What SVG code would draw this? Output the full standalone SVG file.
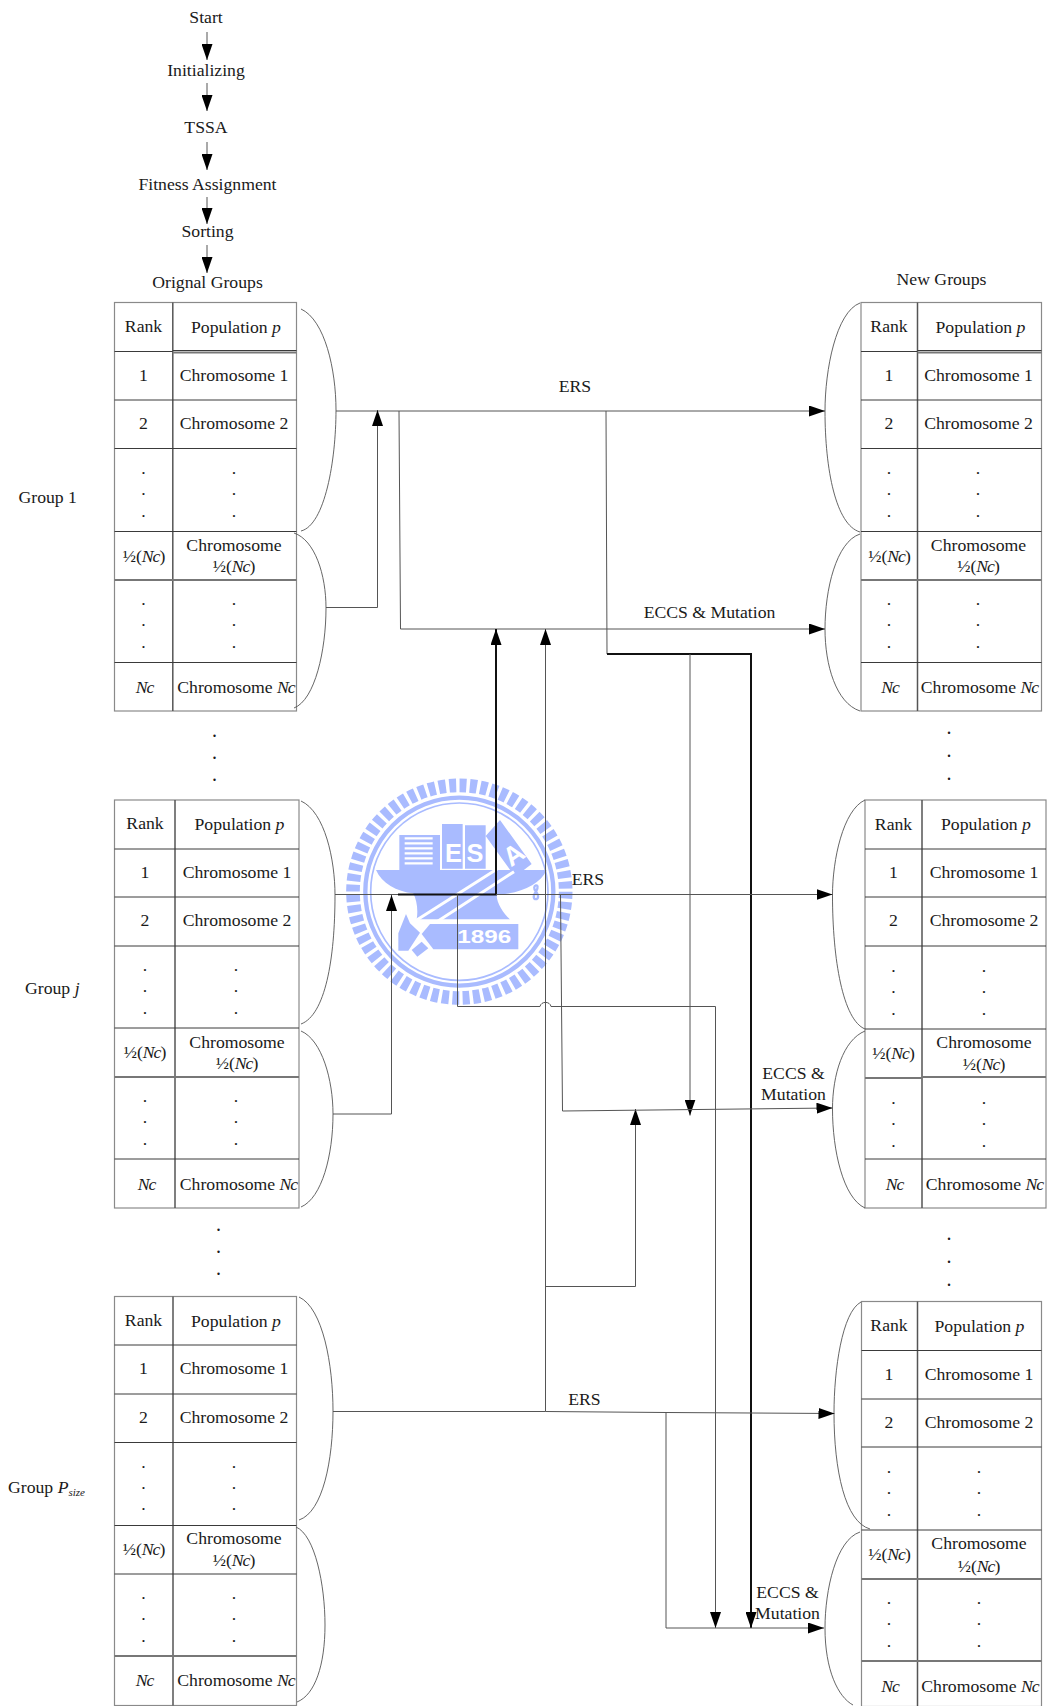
<svg xmlns="http://www.w3.org/2000/svg" width="1048" height="1706" viewBox="0 0 1048 1706">
<style>
text{font-family:"Liberation Serif","Times New Roman",serif;font-size:17.7px;fill:#1a1a1a;text-anchor:middle}
.l{text-anchor:start}
.i{font-style:italic}
.n{font-style:italic;letter-spacing:-1px}
.big{font-size:20px}
.out{fill:none;stroke:#8a8a8a;stroke-width:1.2}
.col{stroke:#555;stroke-width:1.5;fill:none}
.row{stroke:#3a3a3a;stroke-width:1;fill:none}
.dbl{stroke:#777;stroke-width:2;fill:none}
.br{fill:none;stroke:#555;stroke-width:.9}
.c{fill:none;stroke:#555;stroke-width:1}
.t{fill:none;stroke:#111;stroke-width:2}
.a{marker-end:url(#ah)}
.lb{fill:#a9bbff;stroke:none}
.ls{fill:none;stroke:#a9bbff}
.lt{font-family:"Liberation Sans",Arial,sans-serif;font-weight:bold;fill:#fff}
</style>
<defs>
<marker id="ah" viewBox="0 0 16 11" refX="16" refY="5.5" markerWidth="16" markerHeight="11" markerUnits="userSpaceOnUse" orient="auto"><path d="M0 0L16 5.5L0 11Z" fill="#000"/></marker>
</defs>
<rect width="1048" height="1706" fill="#fff"/>

<g id="logo" transform="translate(320 760) scale(.33333)">
<circle class="ls" cx="418" cy="395" r="319" stroke-width="41" stroke-dasharray="21 10.3"/>
<circle class="ls" cx="418" cy="395" r="282" stroke-width="13"/>
<circle class="ls" cx="418" cy="395" r="266" stroke-width="5"/>
<path class="lb" d="M238 225H360V330H238Z"/>
<path d="M254 235H338M254 250H338M254 265H338M254 280H338M254 295H338M254 310H338" stroke="#fff" stroke-width="7"/>
<path class="lb" d="M366 192H428V326H366ZM435 196H497V326H435ZM540 180L635 312L585 350L497 228Z"/>
<path class="lb" d="M168 330H680C660 375 600 400 530 405C530 430 550 460 570 478H360L290 478C295 450 290 420 280 400C230 395 185 370 168 330Z"/>
<path d="M275 490L555 312M300 518L582 335" stroke="#fff" stroke-width="9" fill="none"/>
<path class="lb" d="M330 492H595V568H340L305 522Z"/>
<path class="lb" d="M235 520L258 462L270 490L300 518L265 572H235ZM275 570L305 545L325 565L292 590Z"/>
<text class="lt" x="400" y="305" style="font-size:76px">E</text>
<text class="lt" x="465" y="305" style="font-size:76px">S</text>
<text class="lt" x="0" y="0" style="font-size:80px" transform="translate(597 306) rotate(-35)">A</text>
<text class="lt" x="0" y="0" style="font-size:54px" transform="translate(493 548) scale(1.35 1)">1896</text>
<path class="ls" stroke-width="7" d="M648 395C630 375 665 365 648 395C625 425 670 425 648 395Z"/>
</g>

<g id="start"><text x="206" y="23">Start</text></g>
<g id="initializing"><text x="206" y="76">Initializing</text></g>
<g id="tssa"><text x="206" y="133">TSSA</text></g>
<g id="fitness"><text x="207.500" y="190">Fitness Assignment</text></g>
<g id="sorting"><text x="207.500" y="237">Sorting</text></g>
<g id="original-label"><text x="207.500" y="288">Orignal Groups</text></g>
<g id="new-label"><text x="941.500" y="285">New Groups</text></g>
<g id="group-1"><text class="l" x="18.500" y="503">Group 1</text></g>
<g id="group-j"><text class="l" x="25" y="994">Group <tspan class="i">j</tspan></text></g>
<g id="group-p"><text class="l" x="8" y="1493">Group <tspan class="i">P</tspan><tspan class="i" dy="3" style="font-size:11px">size</tspan></text></g>

<g id="dots">
<text class="big" x="214.500" y="737">.</text><text class="big" x="214.500" y="759">.</text><text class="big" x="214.500" y="781">.</text>
<text class="big" x="218.500" y="1231">.</text><text class="big" x="218.500" y="1253">.</text><text class="big" x="218.500" y="1275">.</text>
<text class="big" x="949" y="734">.</text><text class="big" x="949" y="757">.</text><text class="big" x="949" y="780">.</text>
<text class="big" x="949" y="1240">.</text><text class="big" x="949" y="1263">.</text><text class="big" x="949" y="1286">.</text>
</g>

<g id="table-l1">
<rect class="out" x="114.500" y="302.500" width="182" height="408.500"/>
<path class="col" d="M172.800 302.500V711"/>
<path class="row" d="M114.500 351.500H172.800M172.800 350.500H296.500M114.500 400H296.500M114.500 448.500H296.500M114.500 531.500H296.500M114.500 662.500H296.500"/>
<path class="dbl" d="M114.500 580H296.500M172.800 352.500H296.500"/>
<path class="br" d="M301 309C325 320 336 370 336 410C336 460 325 525 301 531"/>
<path class="br" d="M294 533C315 540 326 575 326 608C326 650 315 700 294 708"/>
<text x="143.500" y="332">Rank</text><text x="236" y="333">Population <tspan class="i">p</tspan></text>
<text x="143.500" y="381">1</text><text x="234" y="381">Chromosome 1</text>
<text x="143.500" y="429">2</text><text x="234" y="429">Chromosome 2</text>
<text x="143.500" y="474">.</text><text x="234" y="474">.</text><text x="143.500" y="495">.</text><text x="234" y="495">.</text><text x="143.500" y="517">.</text><text x="234" y="517">.</text>
<text x="144" y="562">½(<tspan class="n">Nc</tspan>)</text><text x="234" y="551">Chromosome</text><text x="234" y="572">½(<tspan class="n">Nc</tspan>)</text>
<text x="143.500" y="605">.</text><text x="234" y="605">.</text><text x="143.500" y="626">.</text><text x="234" y="626">.</text><text x="143.500" y="648">.</text><text x="234" y="648">.</text>
<text class="n" x="144.500" y="692.500">Nc</text><text x="236" y="692.500">Chromosome <tspan class="n">Nc</tspan></text>
</g>

<g id="table-lj">
<rect class="out" x="114.500" y="800" width="184.500" height="408"/>
<path class="col" d="M175 800V1208"/>
<path class="row" d="M114.500 849H299M114.500 897H299M114.500 946H299M114.500 1028H299M114.500 1159H299"/>
<path class="dbl" d="M114.500 1077H299"/>
<path class="br" d="M301 801C325 812 335 860 335 895C335 960 325 1015 301 1024"/>
<path class="br" d="M301 1031C322 1040 333 1080 333 1114C333 1155 322 1198 301 1207"/>
<text x="145" y="829">Rank</text><text x="239.500" y="830">Population <tspan class="i">p</tspan></text>
<text x="145" y="878">1</text><text x="237" y="878">Chromosome 1</text>
<text x="145" y="926">2</text><text x="237" y="926">Chromosome 2</text>
<text x="145" y="971">.</text><text x="236" y="971">.</text><text x="145" y="992">.</text><text x="236" y="992">.</text><text x="145" y="1014">.</text><text x="236" y="1014">.</text>
<text x="145" y="1058">½(<tspan class="n">Nc</tspan>)</text><text x="237" y="1048">Chromosome</text><text x="237" y="1069">½(<tspan class="n">Nc</tspan>)</text>
<text x="145" y="1102">.</text><text x="236" y="1102">.</text><text x="145" y="1123">.</text><text x="236" y="1123">.</text><text x="145" y="1145">.</text><text x="236" y="1145">.</text>
<text class="n" x="146.500" y="1190">Nc</text><text x="238.500" y="1190">Chromosome <tspan class="n">Nc</tspan></text>
</g>

<g id="table-lp">
<rect class="out" x="114.500" y="1296.500" width="182" height="409"/>
<path class="col" d="M173 1296.500V1705.500"/>
<path class="row" d="M114.500 1345H296.500M114.500 1394H296.500M114.500 1442.500H296.500M114.500 1525.500H296.500M114.500 1574H296.500"/>
<path class="dbl" d="M114.500 1656H296.500"/>
<path class="br" d="M299 1297C323 1308 333 1365 333 1411C333 1460 323 1512 299 1520"/>
<path class="br" d="M296 1527C315 1535 325 1585 325 1625C325 1665 315 1695 297 1702"/>
<text x="143.500" y="1326">Rank</text><text x="236" y="1327">Population <tspan class="i">p</tspan></text>
<text x="143.500" y="1374">1</text><text x="234" y="1374">Chromosome 1</text>
<text x="143.500" y="1423">2</text><text x="234" y="1423">Chromosome 2</text>
<text x="143.500" y="1468">.</text><text x="234" y="1468">.</text><text x="143.500" y="1489">.</text><text x="234" y="1489">.</text><text x="143.500" y="1510">.</text><text x="234" y="1510">.</text>
<text x="144" y="1555">½(<tspan class="n">Nc</tspan>)</text><text x="234" y="1544">Chromosome</text><text x="234" y="1566">½(<tspan class="n">Nc</tspan>)</text>
<text x="143.500" y="1599">.</text><text x="234" y="1599">.</text><text x="143.500" y="1620">.</text><text x="234" y="1620">.</text><text x="143.500" y="1642">.</text><text x="234" y="1642">.</text>
<text class="n" x="144.500" y="1686">Nc</text><text x="236" y="1686">Chromosome <tspan class="n">Nc</tspan></text>
</g>

<g id="table-r1">
<rect class="out" x="861" y="302.500" width="180.500" height="408.500"/>
<path class="col" d="M917.500 302.500V711"/>
<path class="row" d="M861 351.500H917.500M917.500 350.500H1041.500M861 400H1041.500M861 448.500H1041.500M861 531.500H1041.500M861 662.500H1041.500"/>
<path class="dbl" d="M861 580H1041.500M917.500 352.500H1041.500"/>
<path class="br" d="M860 303C836 312 825 370 825 411C825 470 836 525 860 532"/>
<path class="br" d="M860 534C836 542 825 590 825 629C825 665 836 703 860 711"/>
<text x="889" y="332">Rank</text><text x="980.500" y="333">Population <tspan class="i">p</tspan></text>
<text x="889" y="381">1</text><text x="978.500" y="381">Chromosome 1</text>
<text x="889" y="429">2</text><text x="978.500" y="429">Chromosome 2</text>
<text x="889" y="474">.</text><text x="978" y="474">.</text><text x="889" y="495">.</text><text x="978" y="495">.</text><text x="889" y="517">.</text><text x="978" y="517">.</text>
<text x="889.500" y="562">½(<tspan class="n">Nc</tspan>)</text><text x="978.500" y="551">Chromosome</text><text x="978.500" y="572">½(<tspan class="n">Nc</tspan>)</text>
<text x="889" y="605">.</text><text x="978" y="605">.</text><text x="889" y="626">.</text><text x="978" y="626">.</text><text x="889" y="648">.</text><text x="978" y="648">.</text>
<text class="n" x="890" y="692.500">Nc</text><text x="979.500" y="692.500">Chromosome <tspan class="n">Nc</tspan></text>
</g>

<g id="table-rj">
<rect class="out" x="865" y="800" width="181" height="408"/>
<path class="col" d="M922 800V1208"/>
<path class="row" d="M865 849H1046M865 897H1046M865 946H1046M865 1029H1046M865 1159H1046"/>
<path class="dbl" d="M865 1078H922M922 1077H1046"/>
<path class="br" d="M865 800C843 810 832.500 860 832.500 895C832.500 960 843 1020 865 1029"/>
<path class="br" d="M865 1031C843 1040 832.500 1075 832.500 1109C832.500 1150 843 1198 865 1208"/>
<text x="893.500" y="830">Rank</text><text x="986" y="830">Population <tspan class="i">p</tspan></text>
<text x="893.500" y="878">1</text><text x="984" y="878">Chromosome 1</text>
<text x="893.500" y="926">2</text><text x="984" y="926">Chromosome 2</text>
<text x="893.500" y="972">.</text><text x="984" y="972">.</text><text x="893.500" y="993">.</text><text x="984" y="993">.</text><text x="893.500" y="1015">.</text><text x="984" y="1015">.</text>
<text x="893.500" y="1059">½(<tspan class="n">Nc</tspan>)</text><text x="984" y="1048">Chromosome</text><text x="984" y="1070">½(<tspan class="n">Nc</tspan>)</text>
<text x="893.500" y="1104">.</text><text x="984" y="1104">.</text><text x="893.500" y="1125">.</text><text x="984" y="1125">.</text><text x="893.500" y="1147">.</text><text x="984" y="1147">.</text>
<text class="n" x="894.500" y="1190">Nc</text><text x="984.500" y="1190">Chromosome <tspan class="n">Nc</tspan></text>
</g>

<g id="table-rp">
<rect class="out" x="861.500" y="1301.500" width="180" height="405"/>
<path class="col" d="M917.500 1301.500V1706"/>
<path class="row" d="M861.500 1350.500H1041.500M861.500 1399H1041.500M861.500 1447H1041.500M861.500 1530H1041.500"/>
<path class="dbl" d="M861.500 1579H1041.500M861.500 1661H1041.500"/>
<path class="br" d="M861 1302C842 1312 834 1370 834 1413C834 1470 845 1522 870 1529"/>
<path class="br" d="M860 1532C836 1540 825 1590 825 1628C825 1670 838 1697 853 1705"/>
<text x="889" y="1331">Rank</text><text x="979.500" y="1332">Population <tspan class="i">p</tspan></text>
<text x="889" y="1380">1</text><text x="979" y="1380">Chromosome 1</text>
<text x="889" y="1428">2</text><text x="979" y="1428">Chromosome 2</text>
<text x="889" y="1473">.</text><text x="979" y="1473">.</text><text x="889" y="1494">.</text><text x="979" y="1494">.</text><text x="889" y="1516">.</text><text x="979" y="1516">.</text>
<text x="889.500" y="1560">½(<tspan class="n">Nc</tspan>)</text><text x="979" y="1549">Chromosome</text><text x="979" y="1572">½(<tspan class="n">Nc</tspan>)</text>
<text x="889" y="1604">.</text><text x="979" y="1604">.</text><text x="889" y="1625">.</text><text x="979" y="1625">.</text><text x="889" y="1647">.</text><text x="979" y="1647">.</text>
<text class="n" x="890" y="1692">Nc</text><text x="980" y="1692">Chromosome <tspan class="n">Nc</tspan></text>
</g>

<g id="labels">
<text x="575" y="392">ERS</text>
<text x="709.500" y="618">ECCS &amp; Mutation</text>
<text x="588" y="885">ERS</text>
<text x="793.500" y="1079">ECCS &amp;</text><text x="793.500" y="1100">Mutation</text>
<text x="584.500" y="1405">ERS</text>
<text x="787.500" y="1598">ECCS &amp;</text><text x="787.500" y="1619">Mutation</text>
</g>

<g id="connectors">
<path class="c a" d="M207 32V60"/>
<path class="c a" d="M207 83V111"/>
<path class="c a" d="M207 142V170"/>
<path class="c a" d="M207 197V224"/>
<path class="c a" d="M207 245V273"/>
<path class="c a" d="M336 411H825"/>
<path class="c a" d="M326 607.500H377.500V410"/>
<path class="c a" d="M399 411L400.500 629H825"/>
<path class="c" d="M606 411L607 654"/>
<path class="t a" d="M607 654H751V1628"/>
<path class="c a" d="M690 654V1115.500"/>
<path class="c" d="M335 894.500H398"/>
<path class="t a" d="M398 894.500H496V629"/>
<path class="c a" d="M496 894.500H832.500"/>
<path class="c a" d="M333 1114H391.500V895"/>
<path class="c a" d="M457.500 894.500V1006.500H540C541 1001 550 1001 551 1006.500H715.500V1628"/>
<path class="c a" d="M333 1411.500H545.500L666 1412.500L834.500 1413.500"/>
<path class="c a" d="M545.500 1411.500V629"/>
<path class="c a" d="M545.500 1286.500H635.500V1109"/>
<path class="c a" d="M560.500 894.500L562.500 1111L832.500 1108"/>
<path class="c a" d="M666 1412.500V1628H824"/>
</g>
</svg>
